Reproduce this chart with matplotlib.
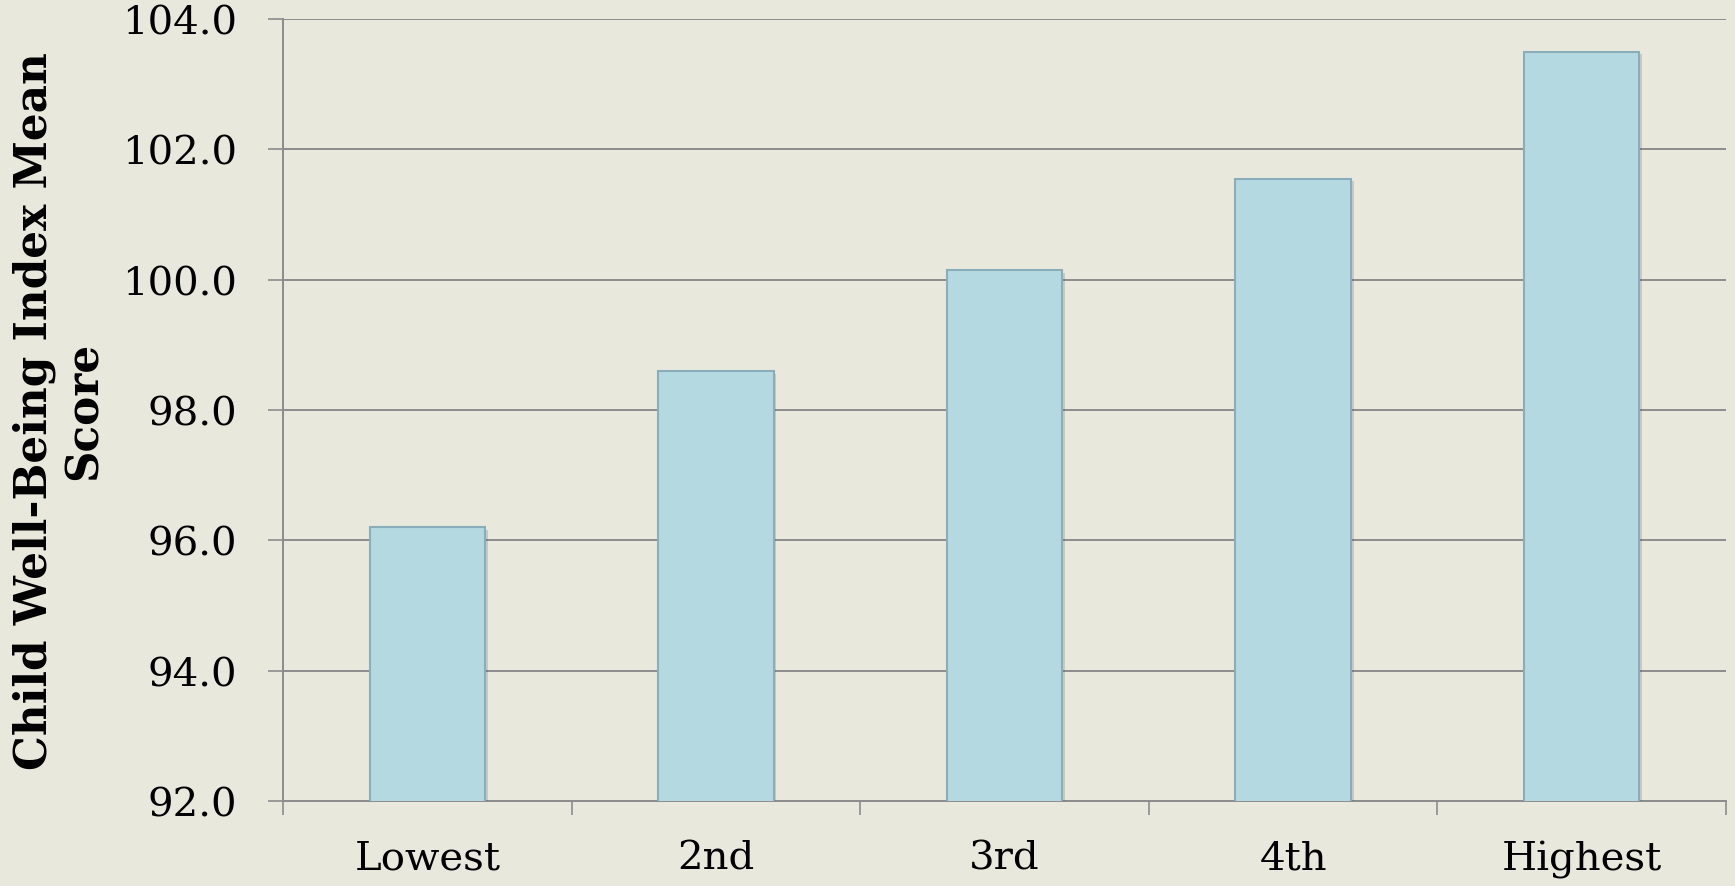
#!/usr/bin/env python3
"""Child well-being index mean score by quintile - bar chart."""

import numpy as np
import matplotlib
matplotlib.use("Agg")
import matplotlib.pyplot as plt
import matplotlib.patheffects as pe

# data
categories = ["Lowest", "2nd", "3rd", "4th", "Highest"]
scores = [96.2, 98.6, 100.15, 101.55, 103.5]
y_ticks = [92.0, 94.0, 96.0, 98.0, 100.0, 102.0, 104.0]

BG = "#e9e8dd"
BAR = "#b4d9e1"
BAR_EDGE = "#8aaeb9"
GRID = "#8c8c8c"

plt.rcParams["font.family"] = ["DejaVu Serif"]

fig = plt.figure(figsize=(17.35, 8.87), dpi=100, facecolor=BG)
ax = fig.add_axes([283 / 1735, 1 - 802 / 887, (1726 - 283) / 1735, (802 - 20) / 887])
ax.set_facecolor(BG)

x = np.arange(len(categories))
bars = ax.bar(x, scores, width=0.40, bottom=0, color=BAR, edgecolor=BAR_EDGE,
              linewidth=1.5, zorder=3)
for b in bars:
    b.set_path_effects([pe.SimplePatchShadow(offset=(2, -2), alpha=0.18), pe.Normal()])

ax.set_xlim(-0.5, len(categories) - 0.5)
ax.set_ylim(92, 104)

ax.set_yticks(y_ticks)
ax.set_yticklabels([f"{v:.1f}" for v in y_ticks])
ax.yaxis.grid(True, color=GRID, linewidth=1.4, zorder=0)
ax.set_axisbelow(True)

ax.set_xticks(x)
ax.set_xticklabels(categories)
ax.set_xticks(np.arange(-0.5, len(categories)), minor=True)
ax.tick_params(axis="x", which="major", length=0, pad=28, labelsize=29)
ax.tick_params(axis="x", which="minor", length=10, width=1.2, color=GRID)
ax.tick_params(axis="y", length=11, width=1.2, color=GRID, pad=22, labelsize=29)

for side in ["top", "right"]:
    ax.spines[side].set_visible(False)
for side in ["left", "bottom"]:
    ax.spines[side].set_color(GRID)
    ax.spines[side].set_linewidth(1.4)

fig.text(59 / 1735, 1 - 411 / 887, "Child Well-Being Index Mean\nScore",
         rotation=90, ha="center", va="center", multialignment="center",
         fontsize=31.5, fontweight="bold", linespacing=1.2)

fig.savefig("out.png", dpi=100, facecolor=BG)
